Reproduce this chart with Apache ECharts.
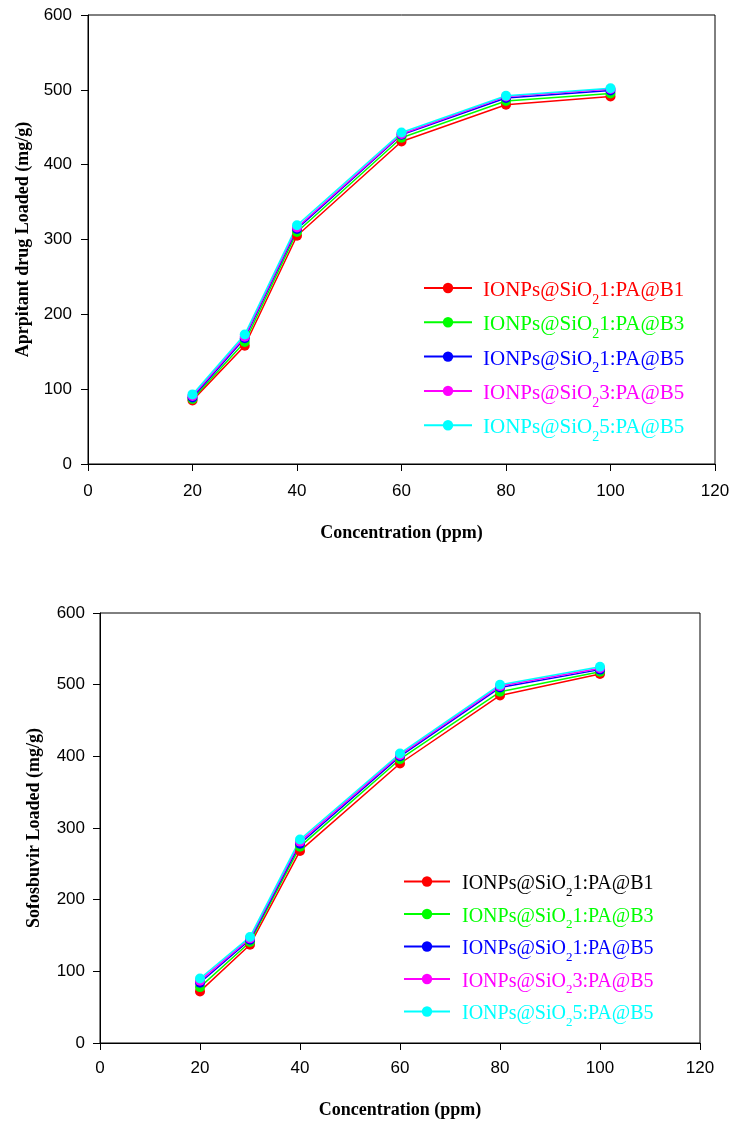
<!DOCTYPE html>
<html><head><meta charset="utf-8">
<script src="https://cdn.jsdelivr.net/npm/echarts@6/dist/echarts.min.js"></script>
<style>html,body{margin:0;padding:0;background:#fff}#c{width:744px;height:1126px}</style>
</head><body><div id="c"></div><script>
// Data
const concentration = [20, 30, 40, 60, 80, 100];
const seriesNames = ['IONPs@SiO21:PA@B1', 'IONPs@SiO21:PA@B3', 'IONPs@SiO21:PA@B5', 'IONPs@SiO23:PA@B5', 'IONPs@SiO25:PA@B5'];
const seriesColors = ['#ff0000', '#00ff00', '#0000ff', '#ff00ff', '#00ffff'];
// Aprepitant (top chart)
const aprB1  = [85, 158, 305, 431, 480, 491];
const aprB3  = [87, 163, 310, 436, 485, 495];
const aprB5  = [89, 168, 314, 440, 489, 499];
const apr3B5 = [91, 170, 316, 441, 491, 501];
const apr5B5 = [93, 173, 319, 443, 492, 502];
// Sofosbuvir (bottom chart)
const sofB1  = [72, 137, 268, 390, 485, 515];
const sofB3  = [78, 141, 274, 396, 490, 518];
const sofB5  = [84, 144, 278, 400, 496, 521];
const sof3B5 = [87, 146, 281, 402, 498, 523];
const sof5B5 = [90, 148, 284, 404, 500, 525];
const xTicks = [0, 20, 40, 60, 80, 100, 120];
const yTicks = [0, 100, 200, 300, 400, 500, 600];

const aprData = [aprB1, aprB3, aprB5, apr3B5, apr5B5];
const sofData = [sofB1, sofB3, sofB5, sof3B5, sof5B5];

const chart = echarts.init(document.getElementById('c'));
const serif = 'Liberation Serif';
const sans = 'Liberation Sans';

function richFor(colorsList, fs, lh, subFs, subPad, firstPad, topPad) {
  const r = {};
  colorsList.forEach((c, i) => {
    r['f' + i] = { color: c, fontFamily: serif, fontSize: fs, lineHeight: lh, verticalAlign: 'top', padding: [topPad, 0, 0, firstPad] };
    r['m' + i] = { color: c, fontFamily: serif, fontSize: fs, lineHeight: lh, verticalAlign: 'top', padding: [topPad, 0, 0, 0] };
    r['s' + i] = { color: c, fontFamily: serif, fontSize: subFs, lineHeight: subFs, verticalAlign: 'top', padding: [subPad + topPad, 0, 0, 0] };
  });
  return r;
}
function fmt(name) {
  const i = seriesNames.indexOf(name);
  const pre = 'IONPs@SiO';
  const rest = name.slice(pre.length + 1);
  return '{f' + i + '|' + pre + '}{s' + i + '|2}{m' + i + '|' + rest + '}';
}

function xAxisCfg(gi) {
  return {
    type: 'value', gridIndex: gi, min: xTicks[0], max: xTicks[xTicks.length - 1], interval: 20,
    name: 'Concentration (ppm)', nameLocation: 'middle', nameGap: gi === 0 ? 60 : 58,
    nameTextStyle: { fontFamily: serif, fontWeight: 'bold', fontSize: 18, color: '#000' },
    axisLine: { show: true, lineStyle: { color: '#000', width: 1 } },
    axisTick: { show: true, inside: false, length: 7, lineStyle: { color: '#000' } },
    axisLabel: { fontFamily: sans, fontSize: 17, color: '#000', margin: gi === 0 ? 19 : 17 },
    splitLine: { show: false }
  };
}
function yAxisCfg(gi, name) {
  return {
    type: 'value', gridIndex: gi, min: yTicks[0], max: yTicks[yTicks.length - 1], interval: 100,
    name: name, nameLocation: 'middle', nameGap: gi === 0 ? 46 : 57,
    nameTextStyle: { fontFamily: serif, fontWeight: 'bold', fontSize: 18, color: '#000' },
    axisLine: { show: true, lineStyle: { color: '#000', width: 1 } },
    axisTick: { show: true, inside: false, length: 7, lineStyle: { color: '#000' } },
    axisLabel: { fontFamily: sans, fontSize: 17, color: '#000', margin: gi === 0 ? 16 : 15 },
    splitLine: { show: false }
  };
}

const series = [];
[aprData, sofData].forEach((set, gi) => {
  set.forEach((vals, i) => {
    series.push({
      type: 'line', name: seriesNames[i], xAxisIndex: gi, yAxisIndex: gi,
      data: concentration.map((x, k) => [x, vals[k]]),
      symbol: 'circle', symbolSize: 10, showSymbol: true,
      lineStyle: { color: seriesColors[i], width: 1.5 },
      itemStyle: { color: seriesColors[i] },
      color: seriesColors[i],
      animation: false
    });
  });
});

chart.setOption({
  backgroundColor: '#fff',
  animation: false,
  grid: [
    { left: 88, top: 15, width: 627, height: 449, show: true, borderColor: '#000', borderWidth: 1, backgroundColor: 'transparent' },
    { left: 100, top: 613, width: 600, height: 430, show: true, borderColor: '#000', borderWidth: 1, backgroundColor: 'transparent' }
  ],
  xAxis: [xAxisCfg(0), xAxisCfg(1)],
  yAxis: [yAxisCfg(0, 'Aprpitant drug Loaded (mg/g)'), yAxisCfg(1, 'Sofosbuvir Loaded (mg/g)')],
  legend: [
    {
      data: seriesNames, orient: 'vertical', left: 423, top: 276, padding: 0, itemWidth: 48, itemHeight: 13, itemGap: 3.3,
      formatter: fmt, textStyle: { rich: richFor(seriesColors, 21, 24, 14, 13, 6, 4) }, selectedMode: false
    },
    {
      data: seriesNames, orient: 'vertical', left: 403, top: 870, padding: 0, itemWidth: 46, itemHeight: 13, itemGap: 3.5,
      formatter: fmt, textStyle: { rich: richFor(['#000000'].concat(seriesColors.slice(1)), 20, 23, 13, 12, 7, 4) }, selectedMode: false
    }
  ],
  series: series
});
</script></body></html>
